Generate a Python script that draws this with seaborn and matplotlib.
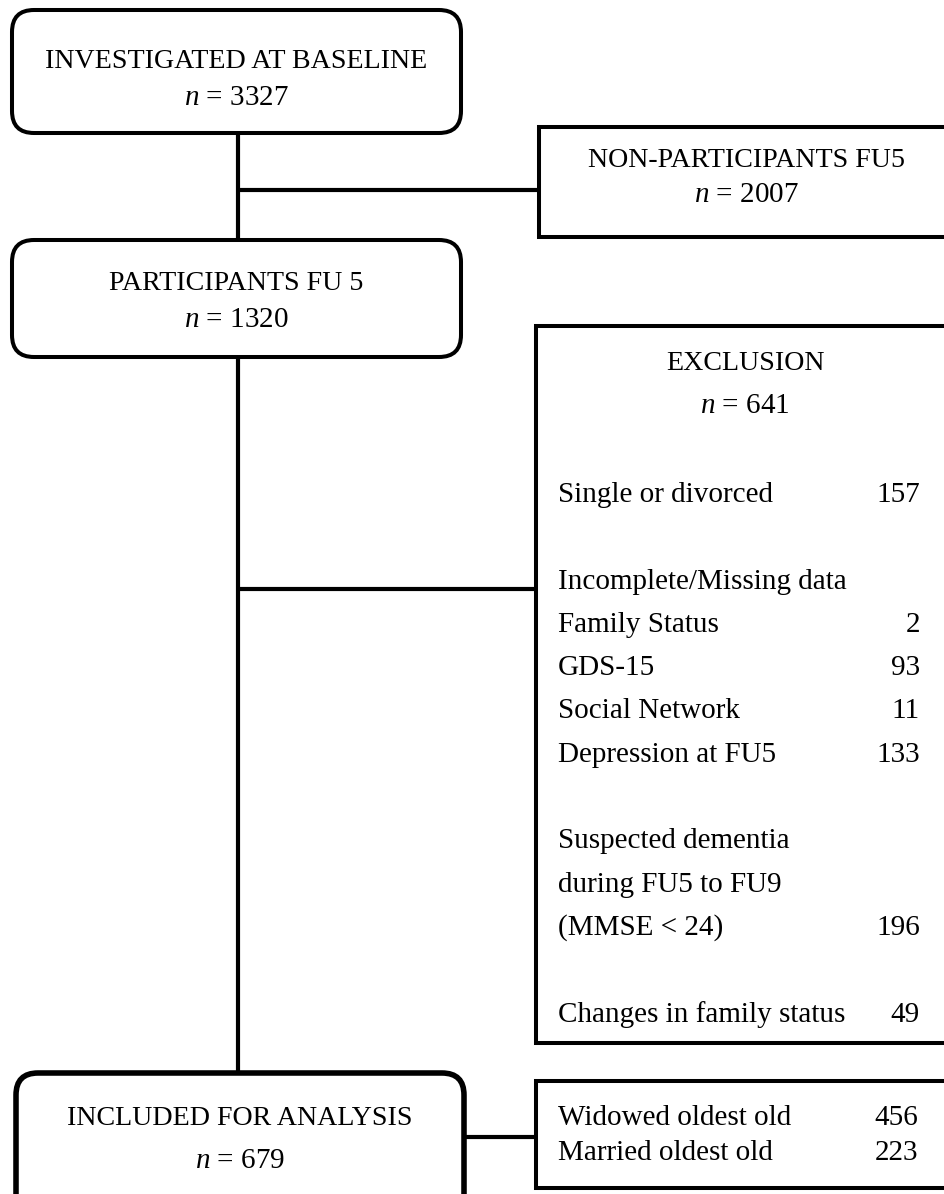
import pandas as pd
import seaborn as sns
import matplotlib.pyplot as plt
from matplotlib.patches import FancyBboxPatch, Rectangle

# flow chart content
box_titles = ["INVESTIGATED AT BASELINE", "NON-PARTICIPANTS FU5", "PARTICIPANTS FU 5",
              "EXCLUSION", "INCLUDED FOR ANALYSIS"]
box_counts = [3327, 2007, 1320, 641, 679]

exclusion_labels = ["Single or divorced", "", "Incomplete/Missing data", "Family Status",
                    "GDS-15", "Social Network", "Depression at FU5", "",
                    "Suspected dementia", "during FU5 to FU9", "(MMSE < 24)", "",
                    "Changes in family status"]
exclusion_counts = ["157", "", "", "2", "93", "11", "133", "", "", "", "196", "", "49"]

group_labels = ["Widowed oldest old", "Married oldest old"]
group_counts = [456, 223]

sns.set_theme(style='white')
plt.rcParams['font.family'] = ['Liberation Serif', 'DejaVu Serif']
plt.rcParams['mathtext.fontset'] = 'custom'
plt.rcParams['mathtext.rm'] = 'Liberation Serif'
plt.rcParams['mathtext.it'] = 'Liberation Serif:italic'

fig = plt.figure(figsize=(9.44, 11.94), dpi=100)
ax = fig.add_axes([0, 0, 1, 1])

# connectors, one unit per segment
segments = pd.DataFrame({
    'x':   [238, 238, 238, 539, 238, 238, 238, 536, 464, 536],
    'y':   [133, 240, 190, 190, 357, 1073, 589, 589, 1137, 1137],
    'seg': [0, 0, 1, 1, 2, 2, 3, 3, 4, 4],
})
sns.lineplot(data=segments, x='x', y='y', units='seg', estimator=None, sort=False,
             color='black', linewidth=3.0, ax=ax)

# boxes: (x0, y0, x1, y1, rounded, linewidth)
boxes = [
    (12, 10, 461, 133, True, 2.9),
    (539, 127, 965, 237, False, 2.9),
    (12, 240, 461, 357, True, 2.9),
    (536, 326, 965, 1043, False, 2.9),
    (16, 1073, 464, 1220, True, 4.0),
    (536, 1081, 965, 1188, False, 2.9),
]
for x0, y0, x1, y1, rounded, lw in boxes:
    if rounded:
        p = FancyBboxPatch((x0, y0), x1 - x0, y1 - y0,
                           boxstyle="round,pad=0,rounding_size=22",
                           fc='white', ec='black', lw=lw, zorder=3)
    else:
        p = Rectangle((x0, y0), x1 - x0, y1 - y0, fc='white', ec='black', lw=lw, zorder=3)
    ax.add_patch(p)

fs = 21
fs_title = 20.2
txt = dict(color='black', zorder=4, va='baseline')

# (centre x, title baseline, n baseline)
title_pos = [(236, 68, 105), (746, 167, 202), (236, 290, 327), (745, 370, 413), (240, 1125, 1168)]
for title, n, (cx, ty, ny) in zip(box_titles, box_counts, title_pos):
    ax.text(cx, ty, title, ha='center', fontsize=fs_title, **txt)
    ax.text(cx, ny, r'$\it{n}$ = ' + str(n), ha='center', fontsize=fs, **txt)

for i, (lab, cnt) in enumerate(zip(exclusion_labels, exclusion_counts)):
    y = 502 + 43.3 * i
    ax.text(558, y, lab, ha='left', fontsize=fs, **txt)
    ax.text(920, y, cnt, ha='right', fontsize=fs, **txt)

for i, (lab, cnt) in enumerate(zip(group_labels, group_counts)):
    y = 1125 + 35 * i
    ax.text(558, y, lab, ha='left', fontsize=fs, **txt)
    ax.text(918, y, str(cnt), ha='right', fontsize=fs, **txt)

ax.set_xlim(0, 944)
ax.set_ylim(1194, 0)
ax.axis('off')
fig.savefig('out.png', dpi=100, facecolor='white')
